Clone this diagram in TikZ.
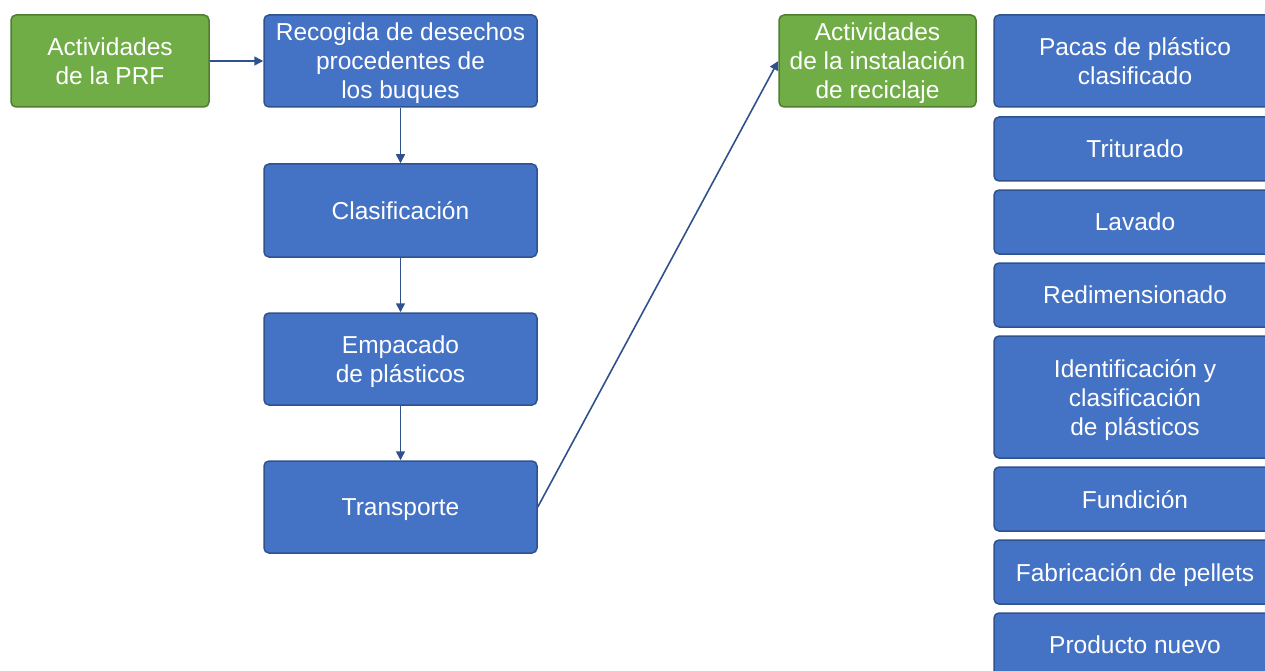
\documentclass[tikz,border=0pt]{standalone}
\usepackage{fontspec}
\setmainfont{Liberation Sans}
\usetikzlibrary{arrows.meta}
\definecolor{bfill}{HTML}{4472C4}
\definecolor{bline}{HTML}{2F528F}
\definecolor{gfill}{HTML}{70AD47}
\definecolor{gline}{HTML}{507E32}
\tikzset{
  box/.style={rectangle, rounded corners=5pt, line width=1.5pt, text=white,
    align=center, inner sep=0pt, text depth=-2pt, font=\fontsize{24.5}{29}\selectfont},
  bluebox/.style={box, fill=bfill, draw=bline},
  greenbox/.style={box, fill=gfill, draw=gline},
  conn/.style={draw=bline, line width=1.6pt, -{Triangle[length=9pt,width=9pt]}},
}
\begin{document}
\begin{tikzpicture}[x=1pt,y=-1pt]
\clip (0,0) rectangle (1265,671);
\node[greenbox, minimum width=198pt, minimum height=92pt] (prf) at (110,61) {Actividades\\de la PRF};
\node[bluebox, minimum width=273pt, minimum height=92pt] (rec) at (400.5,61) {Recogida de desechos\\procedentes de\\los buques};
\node[bluebox, minimum width=273pt, minimum height=93pt] (cla) at (400.5,210.5) {Clasificación};
\node[bluebox, minimum width=273pt, minimum height=92pt] (emp) at (400.5,359) {Empacado\\de plásticos};
\node[bluebox, minimum width=273pt, minimum height=92pt] (tra) at (400.5,507) {Transporte};
\node[greenbox, minimum width=197pt, minimum height=92pt] (ins) at (877.5,61) {Actividades\\de la instalación\\de reciclaje};

\node[bluebox, minimum width=282pt, minimum height=92pt] (pac) at (1135,61) {Pacas de plástico\\clasificado};
\node[bluebox, minimum width=282pt, minimum height=64pt] (tri) at (1135,149) {Triturado};
\node[bluebox, minimum width=282pt, minimum height=64pt] (lav) at (1135,222) {Lavado};
\node[bluebox, minimum width=282pt, minimum height=64pt] (red) at (1135,295) {Redimensionado};
\node[bluebox, minimum width=282pt, minimum height=122pt] (ide) at (1135,397) {Identificación y\\clasificación\\de plásticos};
\node[bluebox, minimum width=282pt, minimum height=64pt] (fun) at (1135,499) {Fundición};
\node[bluebox, minimum width=282pt, minimum height=64pt] (fab) at (1135,572) {Fabricación de pellets};
\node[bluebox, minimum width=282pt, minimum height=64pt] (pro) at (1135,645) {Producto nuevo};

\draw[conn] (prf) -- (rec);
\draw[conn] (rec) -- (cla);
\draw[conn] (cla) -- (emp);
\draw[conn] (emp) -- (tra);
\draw[conn] (tra.east) -- (ins.west);
\end{tikzpicture}
\end{document}
